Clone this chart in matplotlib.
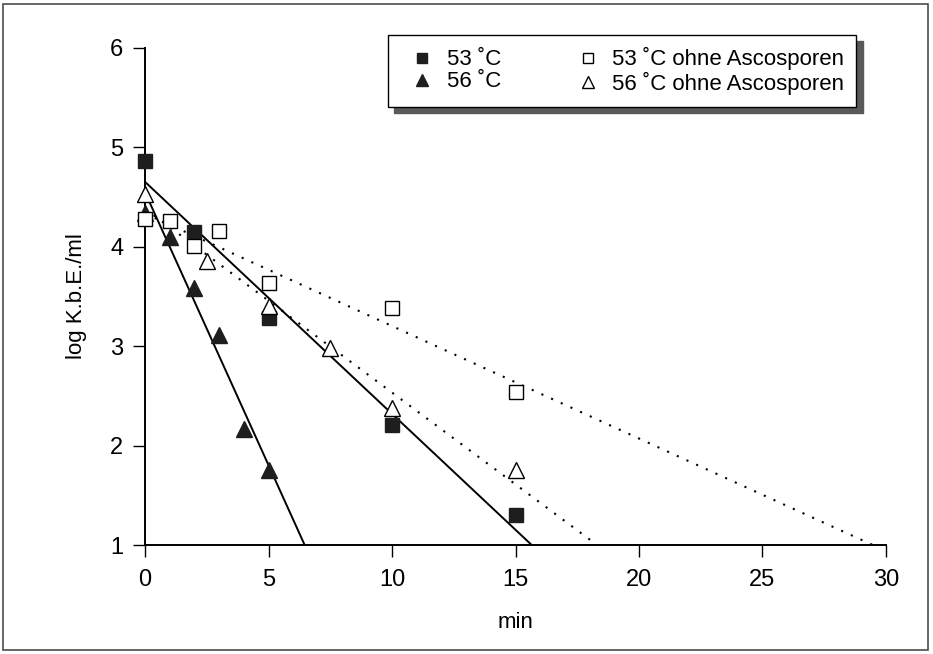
import numpy as np
import matplotlib
matplotlib.use("Agg")
import matplotlib.pyplot as plt
from matplotlib.patches import Rectangle

plt.rcParams['font.family'] = ['Liberation Sans', 'DejaVu Sans']

# Data (x in min, y in log K.b.E./ml)
x_53 = [0, 2, 5, 10, 15]
y_53 = [4.86, 4.15, 3.28, 2.21, 1.30]

x_56 = [0, 1, 2, 3, 4, 5]
y_56 = [4.34, 4.10, 3.59, 3.11, 2.17, 1.75]

x_53o = [0, 1, 2, 3, 5, 10, 15]
y_53o = [4.28, 4.26, 4.01, 4.16, 3.64, 3.38, 2.54]

x_56o = [0, 2.5, 5, 7.5, 10, 15]
y_56o = [4.53, 3.86, 3.40, 2.98, 2.38, 1.75]

labels = ["53 \u02daC", "56 \u02daC", "53 \u02daC ohne Ascosporen", "56 \u02daC ohne Ascosporen"]

fig = plt.figure(figsize=(9.33, 6.54), dpi=100)
ax = fig.add_axes([145 / 933, 1 - 545 / 654, 741 / 933, 497 / 654])

dark = "#1e1e1e"
xx = np.array([0, 30])

# Regression lines (least squares on each series)
dots = (0, (1, 4.1))
for xs, ys, ls in [(x_53, y_53, "-"), (x_56, y_56, "-"),
                   (x_53o, y_53o, dots), (x_56o, y_56o, dots)]:
    k, d = np.polyfit(xs, ys, 1)
    lw = 1.4 if ls == "-" else 1.5
    ax.plot(xx, k * xx + d, color="black", lw=lw, ls=ls, zorder=2)

h1, = ax.plot(x_53, y_53, "s", ms=10, color=dark, mec=dark, ls="none", zorder=3, clip_on=False)
h2, = ax.plot(x_56, y_56, "^", ms=11, color=dark, mec=dark, ls="none", zorder=3, clip_on=False)
h3, = ax.plot(x_53o, y_53o, "s", ms=10, mfc="white", mec="black", mew=1.0, ls="none", zorder=4, clip_on=False)
h4, = ax.plot(x_56o, y_56o, "^", ms=11, mfc="white", mec="black", mew=1.0, ls="none", zorder=4, clip_on=False)

ax.set_xlim(0, 30)
ax.set_ylim(1, 6)
ax.set_xticks([0, 5, 10, 15, 20, 25, 30])
ax.set_yticks([1, 2, 3, 4, 5, 6])
for s in ["top", "right"]:
    ax.spines[s].set_visible(False)
for s in ["left", "bottom"]:
    ax.spines[s].set_linewidth(1.4)
ax.tick_params(direction="out", length=8.5, width=1.0, labelsize=17)
ax.tick_params(axis="x", pad=8.5)
ax.tick_params(axis="y", pad=7)

ax.set_xlabel("min", fontsize=16)
ax.xaxis.set_label_coords(0.5, -(622 - 545) / 497)
ax.xaxis.label.set_verticalalignment("center")
ax.set_ylabel("log K.b.E./ml", fontsize=16, labelpad=17)

leg = ax.legend([h1, h2, h3, h4], labels, ncol=2, loc="upper left",
                bbox_to_anchor=(388 / 933, 1 - 35 / 654), bbox_transform=fig.transFigure,
                borderaxespad=0, fontsize=16, frameon=True, fancybox=False,
                edgecolor="black", markerscale=0.75, handlelength=2.0,
                handletextpad=0.1, columnspacing=2.9, borderpad=0.55,
                labelspacing=0.05,
                shadow={"ox": 4.5, "oy": -4.5, "color": "0.35", "alpha": 1})
leg.get_frame().set_linewidth(1.0)
leg.get_frame().set_alpha(1)

# outer frame around the figure
fig.patches.append(Rectangle((3 / 933, 4 / 654), 925 / 933, 646 / 654,
                             transform=fig.transFigure, fill=False,
                             edgecolor="0.3", lw=1.2))

fig.savefig("out.png", dpi=100)
